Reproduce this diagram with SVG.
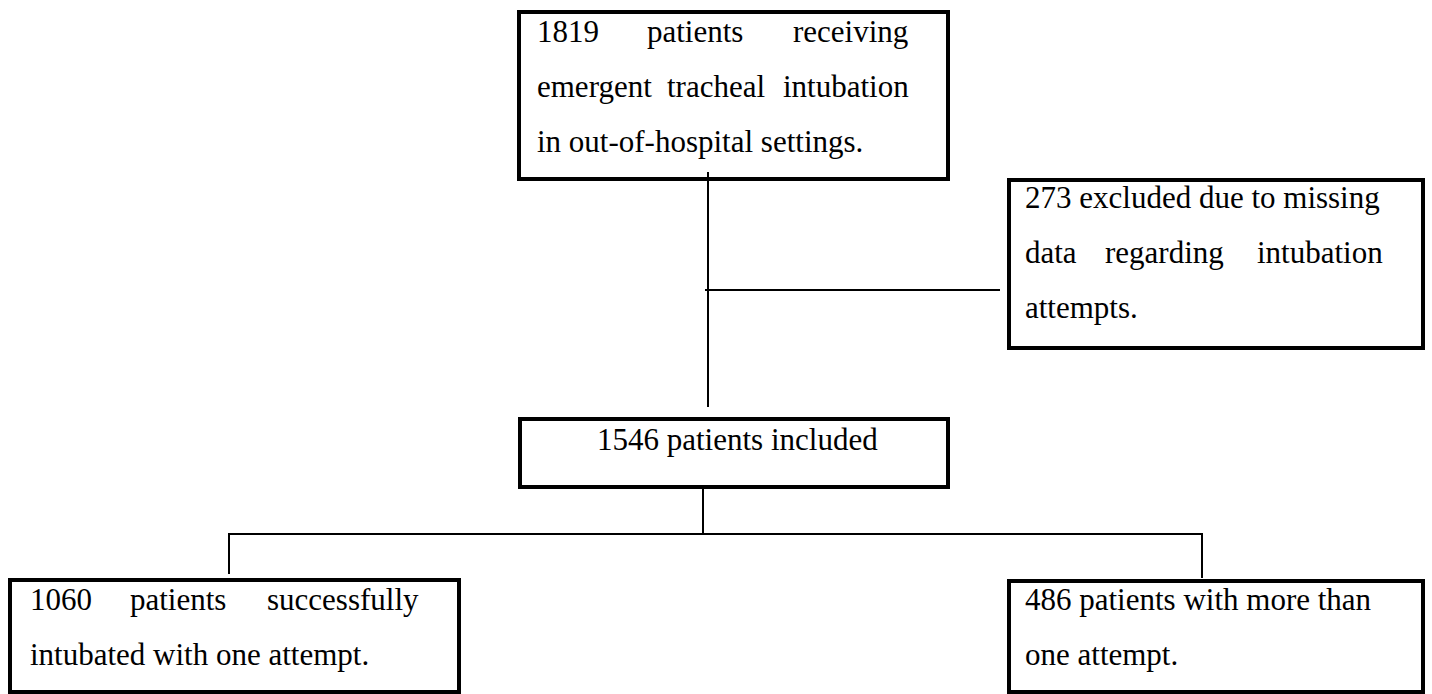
<svg xmlns="http://www.w3.org/2000/svg" width="1432" height="694" viewBox="0 0 1432 694">
<style>
.box{fill:#fff;stroke:#000;stroke-width:4}
.ln{stroke:#000;stroke-width:2;fill:none}
text{font-family:"Liberation Serif","Times New Roman",serif;font-size:31px;fill:#000}
</style>
<rect width="1432" height="694" fill="#fff"/>
<g id="n1">
<rect class="box" x="519" y="12" width="429" height="167"/>
<text y="42"><tspan x="537">1819</tspan><tspan x="647">patients</tspan><tspan x="793">receiving</tspan></text>
<text y="97"><tspan x="537">emergent</tspan><tspan x="667">tracheal</tspan><tspan x="783">intubation</tspan></text>
<text x="537" y="152">in out-of-hospital settings.</text>
</g>
<g id="n2">
<rect class="box" x="1009" y="180" width="414" height="168"/>
<text x="1025" y="208">273 excluded due to missing</text>
<text y="263"><tspan x="1025">data</tspan><tspan x="1105">regarding</tspan><tspan x="1257">intubation</tspan></text>
<text x="1025" y="318">attempts.</text>
</g>
<g id="n3">
<rect class="box" x="520" y="419" width="428" height="68"/>
<text x="597" y="450">1546 patients included</text>
</g>
<g id="n4">
<rect class="box" x="10" y="580" width="449" height="112"/>
<text y="610"><tspan x="30">1060</tspan><tspan x="130">patients</tspan><tspan x="267">successfully</tspan></text>
<text x="30" y="665">intubated with one attempt.</text>
</g>
<g id="n5">
<rect class="box" x="1009" y="581" width="414" height="111"/>
<text x="1025" y="610">486 patients with more than</text>
<text x="1025" y="665">one attempt.</text>
</g>
<g id="connectors">
<line class="ln" x1="708" y1="172" x2="708" y2="407"/>
<line class="ln" x1="705" y1="290" x2="1000" y2="290"/>
<line class="ln" x1="703" y1="488" x2="703" y2="534"/>
<polyline class="ln" points="229,574 229,534 1202,534 1202,578"/>
</g>
</svg>
